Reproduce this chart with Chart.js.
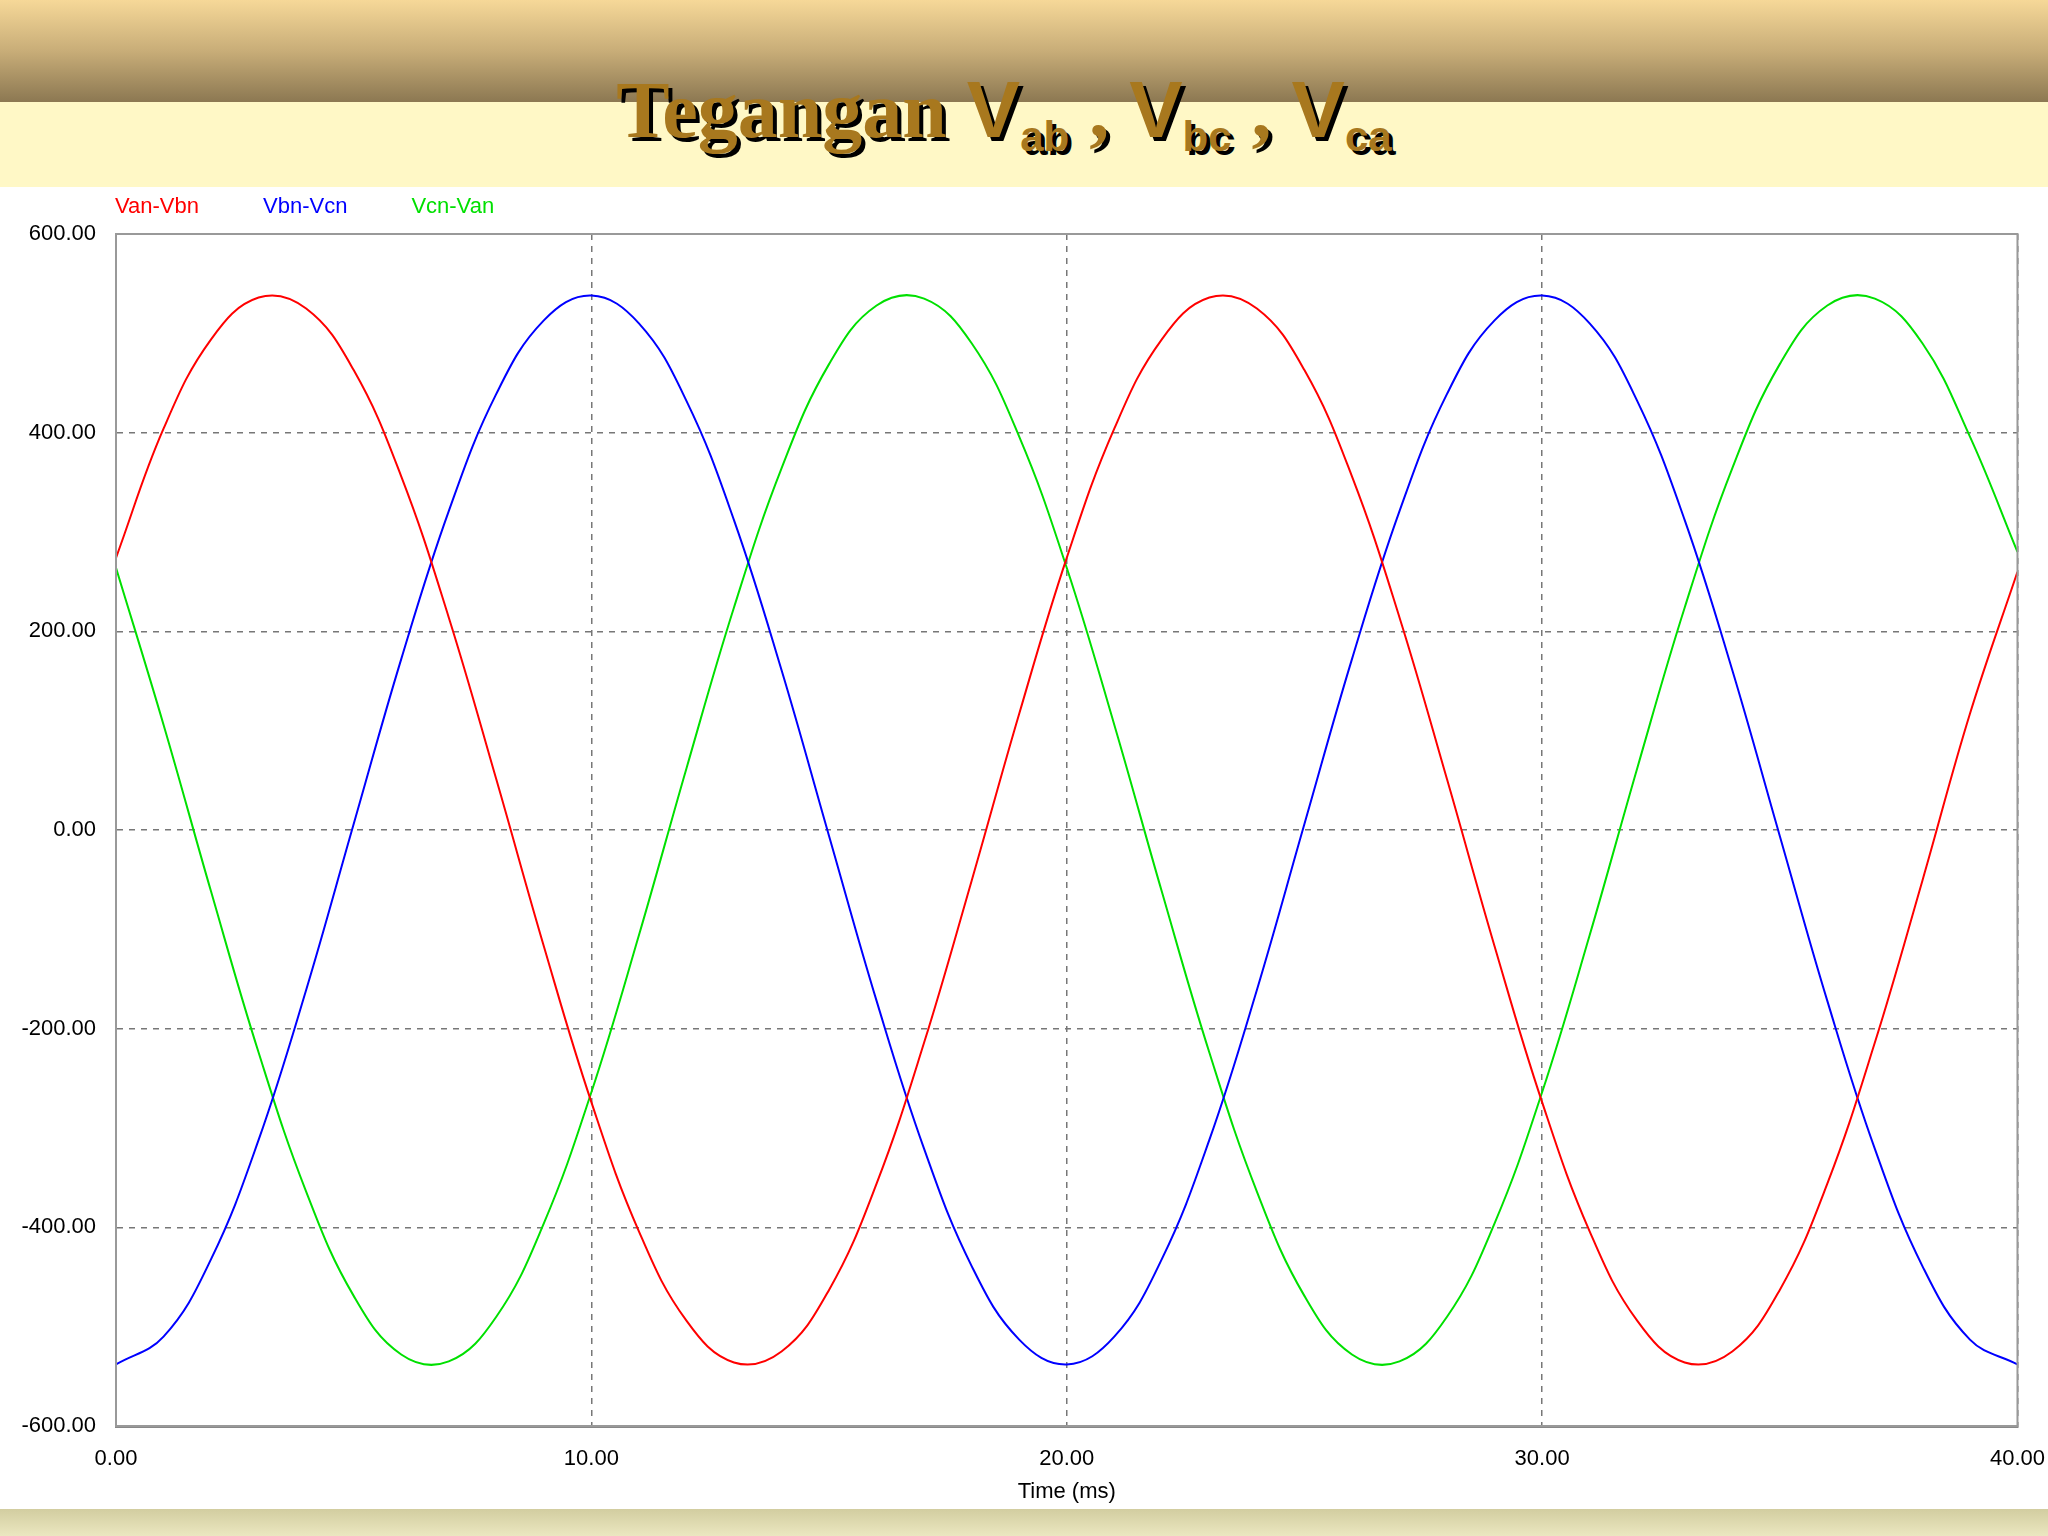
<!DOCTYPE html>
<html><head><meta charset="utf-8">
<script src="https://cdn.jsdelivr.net/npm/chart.js@4/dist/chart.umd.min.js"></script>
<style>
body{margin:0;width:2048px;height:1536px;position:relative;overflow:hidden;background:#fff;}
#top{position:absolute;left:0;top:0;width:2048px;height:102px;background:linear-gradient(#f6d898,#c8ad78 50%,#8c7852);}
#cream{position:absolute;left:0;top:102px;width:2048px;height:85px;background:#fff8c6;}
#bot{position:absolute;left:0;top:1509px;width:2048px;height:27px;background:linear-gradient(#d2cda0,#ebe7c0);}
#title{position:absolute;left:-20px;width:2048px;top:64px;text-align:center;font-family:'Liberation Serif','Times New Roman',serif;font-weight:bold;font-size:80px;color:#a8781e;text-shadow:4px 4px 0 #000;white-space:nowrap;}
#title sub{font-family:'Liberation Sans',Arial,sans-serif;font-size:42px;vertical-align:-14px;}
#title .v{font-family:'Liberation Sans',Arial,sans-serif;}
#legend{position:absolute;top:193px;left:115px;font-family:'Liberation Sans',Arial,sans-serif;font-size:22px;}
#legend span{margin-right:64px;}
#wrap{position:absolute;left:0;top:187px;width:2065px;height:1322px;}
</style></head><body>
<div id="top"></div><div id="cream"></div><div id="bot"></div>
<div id="title">Tegangan <span class="v">V</span><sub>ab</sub> , <span class="v">V</span><sub>bc</sub> , <span class="v">V</span><sub>ca</sub></div>
<div id="wrap"><canvas id="c" width="2065" height="1322"></canvas></div>
<div id="legend"><span style="color:#ff0000">Van-Vbn</span><span style="color:#0000ff">Vbn-Vcn</span><span style="color:#00e000">Vcn-Van</span></div>
<script>
const timeMs = Array.from({length:41},(_,i)=>i);
const cycleA = [274,404,494,536,525,463,356,214,51,-117,-274,-404,-494,-536,-525,-463,-356,-214,-51,117];
const cycleB = [-538,-510,-432,-312,-161,6,172,321,439,513,538,510,432,312,161,-6,-172,-321,-439,-513];
const cycleC = [264,106,-62,-224,-364,-469,-528,-535,-490,-396,-264,-106,62,224,364,469,528,535,490,396];
const vab = [...cycleA,...cycleA,260];
const vbc = [...cycleB,...cycleB,-538];
const vca = [...cycleC,...cycleC,280];
const seriesNames = ['Van-Vbn','Vbn-Vcn','Vcn-Van'];
const yTicks = [-600,-400,-200,0,200,400,600];
const xTicks = [0,10,20,30,40];
const pts = a => a.map((v,i)=>({x:timeMs[i],y:v}));
const tickFont = {family:"'Liberation Sans',Arial,sans-serif",size:22};
new Chart(document.getElementById('c'),{
 type:'line',
 data:{datasets:[
  {label:seriesNames[0],data:pts(vab),borderColor:'#ff0000'},
  {label:seriesNames[1],data:pts(vbc),borderColor:'#0000ff'},
  {label:seriesNames[2],data:pts(vca),borderColor:'#00e000'}
 ]},
 options:{responsive:false,animation:false,
  elements:{point:{radius:0},line:{borderWidth:2,tension:0.4}},
  layout:{padding:{top:47,right:0,left:0,bottom:0}},
  plugins:{legend:{display:false},tooltip:{enabled:false}},
  scales:{
   x:{type:'linear',min:0,max:40,
    afterBuildTicks:s=>{s.ticks=xTicks.map(v=>({value:v}));},
    afterFit:s=>{s.height=83;},
    ticks:{color:'#000',font:tickFont,padding:20,maxRotation:0,callback:v=>v.toFixed(2)},
    grid:{color:'#777',lineWidth:1.5,drawTicks:false},
    border:{color:'#888',width:3,dash:[6,6]},
    title:{display:true,text:'Time (ms)',color:'#000',font:tickFont,padding:{top:2}}},
   y:{min:-600,max:600,
    afterBuildTicks:s=>{s.ticks=yTicks.map(v=>({value:v}));},
    afterFit:s=>{s.width=116;},
    ticks:{color:'#000',font:tickFont,padding:20,callback:v=>v.toFixed(2)},
    grid:{color:'#777',lineWidth:1.5,drawTicks:false},
    border:{color:'#888',width:2,dash:[6,6]}}
  }
 },
 plugins:[{id:'frame',afterDraw(c){const a=c.chartArea,x=c.ctx;x.save();x.strokeStyle='#999';x.lineWidth=2;x.strokeRect(a.left,a.top,a.right-a.left,a.bottom-a.top);x.restore();}}]
});
</script></body></html>
